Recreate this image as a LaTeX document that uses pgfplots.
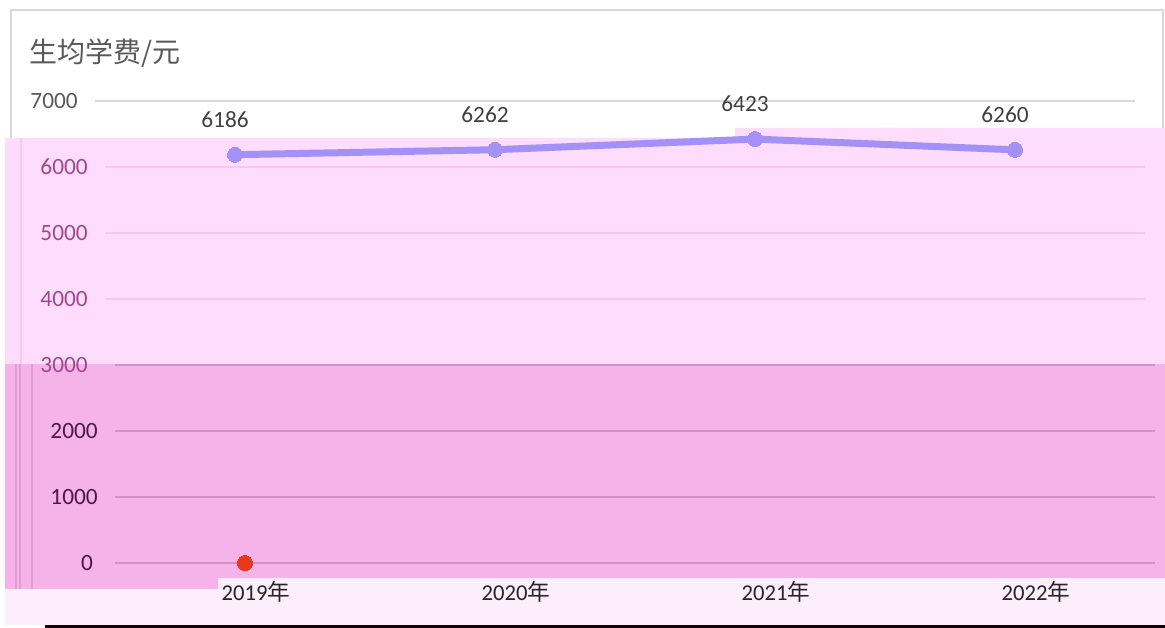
\documentclass[border=0pt]{standalone}
\usepackage{pgfplots}
\pgfplotsset{compat=1.18}
\usepackage{fontspec}
\setmainfont{Carlito}
\newfontfamily\cjk{Noto Sans CJK SC}
\newlength{\px}\setlength{\px}{0.75pt}
\definecolor{cardborder}{HTML}{D9D9D9}
\definecolor{titlegray}{HTML}{595959}
\definecolor{labgray}{HTML}{404040}
\definecolor{toppink}{HTML}{FDDCFD}
\definecolor{lowpink}{HTML}{F5B3E9}
\definecolor{botpink}{HTML}{FDEEFD}
\definecolor{gridtop}{HTML}{D9D9D9}
\definecolor{gridpink}{HTML}{F8C8F4}
\definecolor{gridlow}{HTML}{D590C8}
\definecolor{labtop}{HTML}{A0488E}
\definecolor{lablow}{HTML}{4D1846}
\definecolor{vline}{HTML}{DDA0D5}
\definecolor{linecol}{HTML}{A391F8}
\definecolor{reddot}{HTML}{E8391E}
\definecolor{xlab}{HTML}{262626}
\begin{document}
\begin{tikzpicture}
\path[use as bounding box] (0,0) rectangle (1165\px,628\px);
\fill[white] (0,0) rectangle (1165\px,628\px);
\draw[cardborder, line width=1.5\px] (11\px,8\px) rectangle (1163\px,618\px);
\node[anchor=west, inner sep=0pt, text=titlegray, font=\cjk\fontsize{21}{25}\selectfont] at (29\px,575\px) {生均学费/元};
% overlay bands
\fill[botpink] (5\px,3\px) rectangle (1165\px,50\px);
\fill[black!90!purple] (45\px,0) rectangle (1165\px,3\px);
\fill[lowpink] (5\px,264\px) -- (1165\px,264\px) -- (1165\px,50\px) -- (218\px,50\px) -- (218\px,39\px) -- (5\px,39\px) -- cycle;
\fill[toppink] (5\px,264\px) -- (1165\px,264\px) -- (1165\px,500\px) -- (735\px,500\px) -- (735\px,490\px) -- (5\px,490\px) -- cycle;
\draw[gridpink, line width=1.5\px] (21\px,264\px) -- (21\px,490\px);
\draw[vline, line width=1.2\px] (16\px,39\px) -- (16\px,264\px);
\draw[vline, line width=1.2\px] (20\px,39\px) -- (20\px,264\px);
\draw[vline, line width=1.5\px] (32\px,39\px) -- (32\px,264\px);
\begin{axis}[
  at={(95\px,65\px)}, anchor=south west, scale only axis,
  width=1040\px, height=462\px,
  xmin=-0.5, xmax=3.5, ymin=0, ymax=7000,
  axis line style={draw=none}, major tick length=0pt,
  clip=false,
  xtick={0,1,2,3},
  xticklabels={2019{\cjk 年},2020{\cjk 年},2021{\cjk 年},2022{\cjk 年}},
  xticklabel style={anchor=north, inner sep=0pt, yshift=-18\px, xshift=31\px, text=xlab, font=\fontsize{17}{17}\selectfont},
  ytick={0,1000,2000,3000,4000,5000,6000,7000},
  yticklabels={
    \textcolor{lablow}{0\hspace*{-20\px}},
    \textcolor{lablow}{1000\hspace*{-20\px}},
    \textcolor{lablow}{2000\hspace*{-20\px}},
    \textcolor{labtop}{3000\hspace*{-10\px}},
    \textcolor{labtop}{4000\hspace*{-10\px}},
    \textcolor{labtop}{5000\hspace*{-10\px}},
    \textcolor{labtop}{6000\hspace*{-10\px}},
    \textcolor{titlegray}{7000}},
  yticklabel style={anchor=east, inner sep=0pt, xshift=-17\px, font=\fontsize{17.5}{17.5}\selectfont},
  /pgf/number format/assume math mode=true,
  /pgf/number format/1000 sep={},
]
\draw[gridtop, line width=1.5\px] (axis cs:-0.5,7000) -- (axis cs:3.5,7000);
\draw[gridpink, line width=1.2\px] ([xshift=10\px]axis cs:-0.5,6000) -- ([xshift=10\px]axis cs:3.5,6000);
\draw[gridpink, line width=1.2\px] ([xshift=10\px]axis cs:-0.5,5000) -- ([xshift=10\px]axis cs:3.5,5000);
\draw[gridpink, line width=1.2\px] ([xshift=10\px]axis cs:-0.5,4000) -- ([xshift=10\px]axis cs:3.5,4000);
\draw[gridlow, line width=1.5\px] ([xshift=20\px]axis cs:-0.5,3000) -- ([xshift=20\px]axis cs:3.5,3000);
\draw[gridlow, line width=1.5\px] ([xshift=20\px]axis cs:-0.5,2000) -- ([xshift=20\px]axis cs:3.5,2000);
\draw[gridlow, line width=1.5\px] ([xshift=20\px]axis cs:-0.5,1000) -- ([xshift=20\px]axis cs:3.5,1000);
\draw[gridlow, line width=1.5\px] ([xshift=20\px]axis cs:-0.5,0) -- ([xshift=20\px]axis cs:3.5,0);
% data labels (unshifted copy)
\addplot[draw=none, mark=none, nodes near coords,
  nodes near coords style={anchor=center, yshift=35\px, text=labgray, font=\fontsize{17.5}{17.5}\selectfont}]
  coordinates {(0,6186) (1,6262) (2,6423) (3,6260)};
% the line (shifted copy)
\addplot[xshift=10\px, color=linecol, line width=7\px, mark=*, mark size=7.5\px,
  mark options={fill=linecol, draw=linecol, line width=0pt}]
  coordinates {(0,6186) (1,6262) (2,6423) (3,6260)};
% red dot
\addplot[xshift=20\px, only marks, mark=*, mark size=7.5\px, color=reddot,
  mark options={fill=reddot, draw=reddot, line width=0pt}]
  coordinates {(0,0)};
\end{axis}
\end{tikzpicture}
\end{document}
